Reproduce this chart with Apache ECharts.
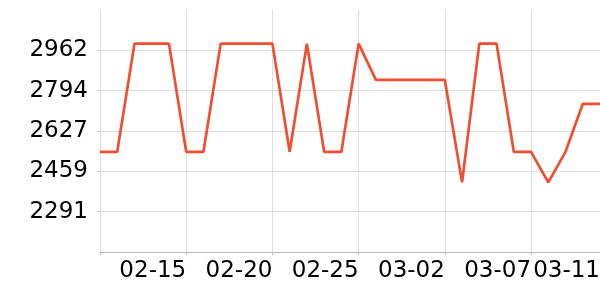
<!DOCTYPE html>
<html>
<head>
<meta charset="utf-8">
<script src="https://cdn.jsdelivr.net/npm/echarts@6/dist/echarts.min.js"></script>
<style>html,body{margin:0;padding:0;background:#fff}#c{width:600px;height:300px}</style>
</head>
<body>
<div id="c"></div>
<script>
const dates = ['02-10','02-11','02-12','02-13','02-14','02-15','02-16','02-17','02-18','02-19',
  '02-20','02-21','02-22','02-23','02-24','02-25','02-26','02-27','02-28','03-01',
  '03-02','03-03','03-04','03-05','03-06','03-07','03-08','03-09','03-10','03-11'];
const values = [2540,2540,2990,2990,2990,2540,2540,2990,2990,2990,
  2990,2540,2990,2540,2540,2990,2839,2839,2839,2839,
  2839,2413,2990,2990,2540,2540,2413,2540,2739,2739];
const yMin = 2123.5;
const yStep = 167.7;
const yMax = 3129.7;

const chart = echarts.init(document.getElementById('c'), null, {renderer: 'canvas'});
const font = 'DejaVu Sans';
chart.setOption({
  animation: false,
  grid: {left: 100, right: 0, top: 10, bottom: 48, containLabel: false, outerBoundsMode: 'none'},
  xAxis: {
    type: 'category',
    data: dates,
    boundaryGap: false,
    axisLine: {show: true, lineStyle: {color: '#bbbbbb', width: 1}},
    axisTick: {show: true, length: 3, interval: (i) => i % 5 === 0, lineStyle: {color: '#bbbbbb'}},
    splitLine: {show: true, interval: (i) => i % 5 === 0, lineStyle: {color: '#dddddd', width: 1}},
    axisLabel: {
      interval: (i) => i > 0 && (i % 5 === 0 || i === dates.length - 1),
      align: 'right',
      color: '#000', fontFamily: font, fontSize: 23, margin: 8
    }
  },
  yAxis: {
    type: 'value',
    min: yMin, max: yMax, interval: yStep,
    axisLine: {show: false},
    axisTick: {show: true, length: 3, lineStyle: {color: '#cccccc'}},
    splitLine: {show: true, showMinLine: false, showMaxLine: false, lineStyle: {color: '#dddddd', width: 1}},
    axisLabel: {
      showMinLabel: false, showMaxLabel: false,
      formatter: (v) => String(Math.round(v)),
      color: '#000', fontFamily: font, fontSize: 23, margin: 12
    }
  },
  series: [{
    type: 'line',
    data: values,
    symbol: 'none',
    lineStyle: {color: '#f04e30', width: 2.7},
    itemStyle: {color: '#f04e30'}
  }]
});
</script>
</body>
</html>
